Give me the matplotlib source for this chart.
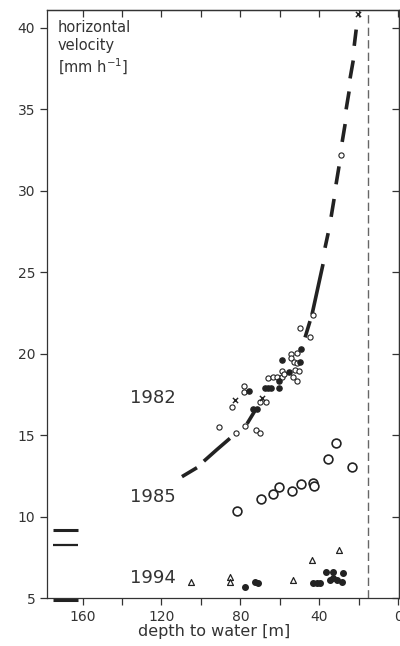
import matplotlib
matplotlib.use("Agg")
from matplotlib import pyplot as plt

# fitted curve for 1982, drawn as separate dashes (depth [m], velocity [mm/h])
curve_depth = [[109.6, 102.0], [98.5, 92.0, 85.3], [76.6, 72.6], [47.2, 44.7],
               [43.7, 38.1], [37.1, 35.5], [34.0, 32.5], [31.5, 30.0],
               [28.4, 26.9], [26.4, 24.9], [24.4, 22.8], [22.3, 21.3]]
curve_vel = [[12.45, 13.0], [13.4, 14.1, 14.8], [15.7, 16.5], [21.0, 22.0],
             [22.4, 25.5], [26.5, 27.4], [28.4, 29.5], [30.4, 31.5],
             [33.0, 34.1], [35.0, 36.1], [36.9, 38.0], [38.9, 39.9]]

# 1982 measurements
open82_depth = [43.3, 49.7, 44.7, 54.5, 54.5, 51.1, 52.8, 51.4, 58.9, 52.3, 50.1,
                65.8, 63.6, 61.6, 59.0, 57.9, 53.1, 51.4, 78.2, 78.2, 84.4,
                70.0, 67.0, 77.6, 90.6, 82.2, 72.1, 70.1, 28.9]
open82_vel = [22.37, 21.55, 21.04, 19.97, 19.76, 20.03, 19.5, 19.4, 18.93, 19.0, 18.95,
              18.5, 18.54, 18.58, 18.54, 18.74, 18.54, 18.33, 18.0, 17.65, 16.72,
              17.03, 17.03, 15.57, 15.5, 15.1, 15.3, 15.15, 32.2]
fill82_depth = [49.2, 58.7, 49.7, 55.5, 60.3, 75.8, 67.5, 66.0, 64.5, 60.3, 73.5, 71.5]
fill82_vel = [20.3, 19.6, 19.5, 18.9, 18.3, 17.7, 17.88, 17.88, 17.88, 17.92, 16.6, 16.6]
cross82_depth = [82.5, 68.8, 20.3]
cross82_vel = [17.15, 17.3, 40.85]

# 1985 measurements
open85_depth = [81.9, 69.7, 63.6, 60.4, 53.7, 49.4, 43.1, 42.5, 35.4, 31.6, 23.4]
open85_vel = [10.34, 11.06, 11.36, 11.83, 11.59, 11.99, 12.09, 11.89, 13.56, 14.54, 13.06]

# 1994 measurements
tri94_depth = [105.1, 85.3, 85.3, 53.1, 43.8, 29.8]
tri94_vel = [6.0, 6.27, 6.0, 6.1, 7.32, 7.94]
fill94_depth = [77.7, 72.6, 70.9, 43.0, 41.3, 39.6, 36.5, 32.8, 28.1, 34.5, 32.8, 31.1, 28.6]
fill94_vel = [5.65, 6.0, 5.95, 5.94, 5.94, 5.94, 6.57, 6.61, 6.51, 6.1, 6.2, 6.1, 6.0]

# short bars at the left edge
bar_vel = [9.2, 8.25, 4.88]
bar_depth = [175.0, 162.5]

year_labels = ["1982", "1985", "1994"]
year_vel = [17.3, 11.2, 6.2]

x_ticks = [160, 140, 120, 100, 80, 60, 40, 20, 0]
x_labels = ["160", "", "120", "", "80", "", "40", "", "0"]
y_ticks = [5, 10, 15, 20, 25, 30, 35, 40]

ink = "#222222"

fig = plt.figure(figsize=(4, 6.46), dpi=100)
ax = fig.add_axes([0.1175, 0.0743, 0.8805, 0.9102])

for d, v in zip(curve_depth, curve_vel):
    ax.plot(d, v, color=ink, lw=2.6, solid_capstyle="butt")

ax.scatter(open82_depth, open82_vel, s=14, facecolors="white", edgecolors=ink, linewidths=0.8, zorder=3)
ax.scatter(fill82_depth, fill82_vel, s=14, color=ink, zorder=3)
ax.scatter(cross82_depth, cross82_vel, s=14, marker="x", color=ink, linewidths=1.0, zorder=3, clip_on=False)

ax.scatter(open85_depth, open85_vel, s=40, facecolors="white", edgecolors=ink, linewidths=1.2, zorder=3)

ax.scatter(tri94_depth, tri94_vel, s=18, marker="^", facecolors="white", edgecolors=ink, linewidths=0.9, zorder=3)
ax.scatter(fill94_depth, fill94_vel, s=16, color=ink, zorder=3)

for i, v in enumerate(bar_vel):
    ax.plot(bar_depth, [v, v], color=ink, lw=2.2 if i != 1 else 1.6, solid_capstyle="butt", clip_on=False)

# vertical dashed line near the right edge
ax.axvline(15.5, color="#666666", lw=1.0, dashes=(6, 3))

for lab, v in zip(year_labels, year_vel):
    ax.text(136, v, lab, fontsize=13, color="#333333", ha="left", va="center")

ax.text(172.5, 40.5, "horizontal\nvelocity\n[mm h$^{-1}$]", fontsize=10.5, color="#333333",
        ha="left", va="top", linespacing=1.25)

ax.set_xlim(178, -0.5)
ax.set_ylim(5, 41.1)

ax.set_xticks(x_ticks, labels=x_labels)
ax.set_yticks(y_ticks)
ax.tick_params(axis="both", direction="out", length=5, width=0.9, colors="#333333", labelsize=10)
ax.set_xlabel("depth to water [m]", fontsize=11.5, color="#333333")
ax.xaxis.set_label_coords(0.475, -0.044)

top = ax.secondary_xaxis("top")
top.set_xticks(x_ticks)
top.tick_params(direction="in", length=5, width=0.9, labeltop=False, colors="#333333")
right = ax.secondary_yaxis("right")
right.set_yticks(y_ticks)
right.tick_params(direction="in", length=5, width=0.9, labelright=False, colors="#333333")

for sp in list(ax.spines.values()) + [top.spines["top"], right.spines["right"]]:
    sp.set_linewidth(0.9)
    sp.set_color("#333333")

plt.savefig("out.png", dpi=100)
